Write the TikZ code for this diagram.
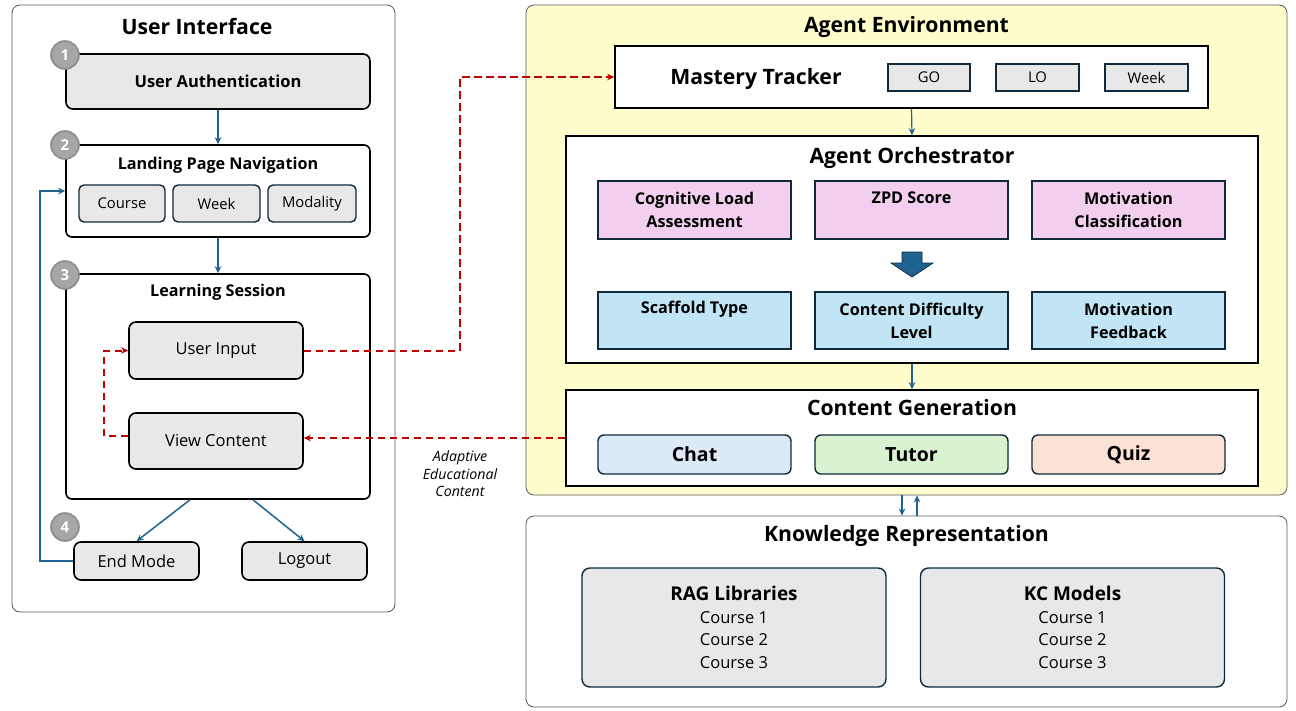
\documentclass[tikz,border=0pt]{standalone}
\usepackage{fontspec}
\setmainfont{Open Sans}
\usetikzlibrary{arrows.meta}
\definecolor{boxgray}{HTML}{E8E8E8}
\definecolor{navy}{HTML}{0E2A3B}
\definecolor{arrowblue}{HTML}{1F6391}
\definecolor{dashred}{HTML}{C00000}
\definecolor{envyellow}{HTML}{FFFDCC}
\definecolor{pinkbox}{HTML}{F2CFEE}
\definecolor{bluebox}{HTML}{C1E5F5}
\definecolor{chatfill}{HTML}{DCEAF7}
\definecolor{tutorfill}{HTML}{D9F2D0}
\definecolor{quizfill}{HTML}{FBE2D5}
\definecolor{circfill}{HTML}{A6A6A6}
\definecolor{circline}{HTML}{8C8C8C}
\definecolor{outline}{HTML}{595959}
\tikzset{
  outerbox/.style={draw=outline, line width=0.8pt, rounded corners=8pt, inner sep=0pt},
  stagebox/.style={draw=black, line width=1.6pt, rounded corners=6pt, fill=white, inner sep=0pt},
  graybox/.style={draw=black, line width=1.6pt, rounded corners=7pt, fill=boxgray, inner sep=0pt, font=\fontsize{16.5}{19}\selectfont},
  subbox/.style={draw=navy, line width=1.4pt, rounded corners=5pt, fill=boxgray, inner sep=0pt, font=\fontsize{14.8}{17}\selectfont},
  sqbox/.style={draw=black, line width=1.6pt, fill=white, inner sep=0pt},
  tagbox/.style={draw=navy, line width=1.4pt, fill=boxgray, inner sep=0pt, font=\fontsize{14.8}{17}\selectfont},
  metricbox/.style={draw=navy, line width=1.6pt, inner sep=0pt, minimum width=193pt, align=center, font=\bfseries\fontsize{16.2}{23}\selectfont},
  genbox/.style={draw=navy, line width=1.4pt, rounded corners=6pt, inner sep=0pt, minimum width=193pt, minimum height=39pt, font=\bfseries\fontsize{19.5}{22}\selectfont},
  kbox/.style={draw=navy, line width=1.4pt, rounded corners=8pt, fill=boxgray, inner sep=0pt, minimum width=304pt, minimum height=119pt},
  bigtitle/.style={font=\bfseries\fontsize{21.2}{24}\selectfont, inner sep=0pt, anchor=base},
  midtitle/.style={font=\bfseries\fontsize{16.2}{19}\selectfont, inner sep=0pt, anchor=base},
  numcirc/.style={circle, draw=circline, line width=1.6pt, fill=circfill, minimum size=28pt, inner sep=0pt, text=white, font=\bfseries\fontsize{15}{18}\selectfont},
  bluearrow/.style={draw=arrowblue, line width=1.5pt, -{Stealth[length=7pt,width=6.5pt]}},
  reddash/.style={draw=dashred, line width=2pt, dash pattern=on 7.5pt off 4.5pt, -{Stealth[length=7pt,width=6.5pt]}},
}
\begin{document}
\begin{tikzpicture}[x=1pt,y=-1pt]
\useasboundingbox (0,0) rectangle (1296,710);

% ===== User Interface =====
\node[outerbox, fill=white, minimum width=383pt, minimum height=607pt] (UI) at (203.5,308.5) {};
\node[bigtitle] (UItitle) at (197,34.5) {User Interface};

\node[graybox, minimum width=304pt, minimum height=55pt, font=\bfseries\fontsize{16.5}{19}\selectfont] (Auth) at (218,81.5) {User Authentication};

\node[stagebox, minimum width=304pt, minimum height=92pt] (Landing) at (218,191) {};
\node[midtitle] (Landingtitle) at (218,169.5) {Landing Page Navigation};
\node[subbox, minimum width=86pt, minimum height=37pt] (Course) at (122,203.5) {Course};
\node[subbox, minimum width=87pt, minimum height=37pt] (WeekA) at (216.5,203.5) {Week};
\node[subbox, minimum width=88pt, minimum height=37pt] (Modality) at (312,203.5) {Modality};

\node[stagebox, minimum width=304pt, minimum height=225pt] (Learning) at (218,386.5) {};
\node[midtitle] (Learningtitle) at (218,296.5) {Learning Session};
\node[graybox, minimum width=174pt, minimum height=57pt] (UserInput) at (216,350.5) {User Input};
\node[graybox, minimum width=174pt, minimum height=56pt] (ViewContent) at (216,441) {View Content};

\node[graybox, minimum width=125pt, minimum height=38pt] (EndMode) at (136.5,561) {End Mode};
\node[graybox, minimum width=125pt, minimum height=38pt] (Logout) at (304.5,561) {Logout};

\node[numcirc] (c1) at (65,55) {1};
\node[numcirc] (c2) at (65,145) {2};
\node[numcirc] (c3) at (65,275) {3};
\node[numcirc] (c4) at (65,527) {4};

% ===== Agent Environment =====
\node[outerbox, fill=envyellow, minimum width=761pt, minimum height=490pt] (AgentEnv) at (906.5,250) {};
\node[bigtitle] (AEtitle) at (906.5,32.5) {Agent Environment};

\node[sqbox, minimum width=593pt, minimum height=62pt] (Mastery) at (911.5,77) {};
\node[bigtitle] (Masterytitle) at (756,84.5) {Mastery Tracker};
\node[tagbox, minimum width=82pt, minimum height=27pt] (GO) at (929,77.5) {GO};
\node[tagbox, minimum width=83pt, minimum height=27pt] (LO) at (1037.5,77.5) {LO};
\node[tagbox, minimum width=83pt, minimum height=27pt] (WeekB) at (1146.5,77.5) {Week};

\node[sqbox, minimum width=692pt, minimum height=227pt] (Orch) at (912,249.5) {};
\node[bigtitle] (Orchtitle) at (912,163.5) {Agent Orchestrator};
\node[metricbox, fill=pinkbox, minimum height=58pt] (CogLoad) at (694.5,210) {Cognitive Load\\Assessment};
\node[metricbox, fill=pinkbox, minimum height=58pt] (ZPD) at (911.5,210) {ZPD Score\\[-5pt]\strut};
\node[metricbox, fill=pinkbox, minimum height=58pt] (MotClass) at (1128.5,210) {Motivation\\Classification};
\node[metricbox, fill=bluebox, minimum height=57pt] (Scaffold) at (694.5,320.5) {Scaffold Type\\[-4pt]\strut};
\node[metricbox, fill=bluebox, minimum height=57pt] (Difficulty) at (911.5,320.5) {Content Difficulty\\Level};
\node[metricbox, fill=bluebox, minimum height=57pt] (MotFeed) at (1128.5,320.5) {Motivation\\Feedback};
\coordinate (bigarrow) at (912,252);
\draw[fill=arrowblue, draw=navy, line width=0.8pt]
  (bigarrow) ++(-10,0) -- ++(20,0) -- ++(0,11) -- ++(11,0) -- ++(-21,14) -- ++(-21,-14) -- ++(11,0) -- cycle;

\node[sqbox, minimum width=692pt, minimum height=96pt] (ContentGen) at (912,438) {};
\node[bigtitle] (CGtitle) at (912,415.5) {Content Generation};
\node[genbox, fill=chatfill] (Chat) at (694.5,454.5) {Chat};
\node[genbox, fill=tutorfill] (Tutor) at (911.5,454.5) {Tutor};
\node[genbox, fill=quizfill] (Quiz) at (1128.5,454.5) {Quiz};

% ===== Knowledge Representation =====
\node[outerbox, fill=white, minimum width=761pt, minimum height=191pt] (Know) at (906.5,611.5) {};
\node[bigtitle] (Knowtitle) at (906.5,541.5) {Knowledge Representation};
\node[kbox, align=center, font=\fontsize{16.5}{22.5}\selectfont] (RAG) at (734,627.5) {{\bfseries\fontsize{19}{22}\selectfont RAG Libraries}\\Course 1\\Course 2\\Course 3};
\node[kbox, align=center, font=\fontsize{16.5}{22.5}\selectfont] (KC) at (1072.5,627.5) {{\bfseries\fontsize{19}{22}\selectfont KC Models}\\Course 1\\Course 2\\Course 3};

% ===== Connectors =====
\draw[bluearrow] (Auth.south) -- (Landing.north);
\draw[bluearrow] (Landing.south) -- (Learning.north);
\draw[bluearrow] ([xshift=-28pt]Learning.south) -- (EndMode.north);
\draw[bluearrow] ([xshift=35pt]Learning.south) -- (Logout.north);
\draw[bluearrow] (EndMode.west) -- ++(-33,0) |- (Landing.west);

\draw[reddash] (ViewContent.west) ++(0,-5) -- ++(-24,0) |- (UserInput.west);
\draw[reddash] (UserInput.east) -- ++(156,0) |- (Mastery.west);
\draw[reddash] (ContentGen.west) -- (ContentGen.west -| ViewContent.east);
\node[align=center, font=\itshape\fontsize{14.2}{17.5}\selectfont, inner sep=0pt] (adaptive) at (460,474) {Adaptive\\Educational\\Content};

\draw[bluearrow, line width=1.2pt] (Mastery.south) -- (Orch.north);
\draw[bluearrow, line width=1.2pt] (Orch.south) -- (ContentGen.north);
\draw[bluearrow, line width=1.2pt] ([xshift=-4.5pt]AgentEnv.south) -- ([xshift=-4.5pt]Know.north);
\draw[bluearrow, line width=1.2pt] ([xshift=10.5pt]Know.north) -- ([xshift=10.5pt]AgentEnv.south);
\end{tikzpicture}
\end{document}
